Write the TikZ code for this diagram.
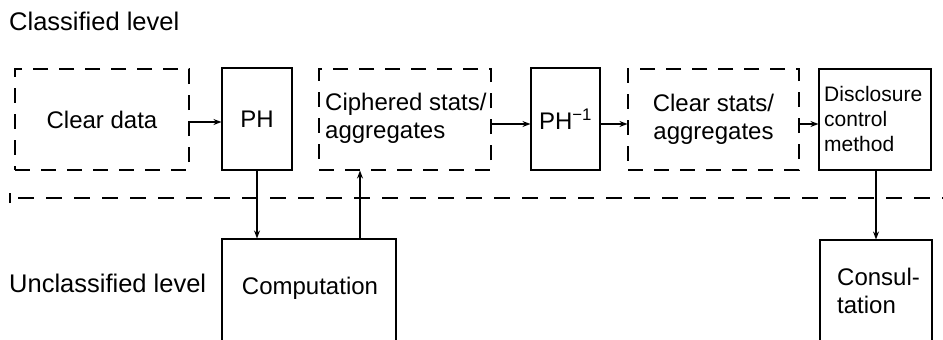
\documentclass[tikz,border=0pt]{standalone}
\usepackage{fontspec}
\setmainfont{Liberation Sans}
\usetikzlibrary{arrows.meta}
\tikzset{
  box/.style={draw, line width=1.1pt, inner sep=0pt, align=center},
  dbox/.style={box, dash pattern=on 15pt off 11pt},
  txt/.style={inner sep=0pt, align=left},
  big/.style={font=\fontsize{24}{28}\selectfont},
  lbl/.style={font=\fontsize{25.5}{30}\selectfont, inner sep=0pt, anchor=west},
  arr/.style={line width=1.1pt, -{Stealth[length=8pt,width=6pt]}},
}
\begin{document}
\begin{tikzpicture}[x=1pt,y=-1pt]
\useasboundingbox (0,0) rectangle (943,340);
\clip (0,0) rectangle (943,340);
\node[lbl] (cl) at (9,21) {Classified level};
\node[lbl] (ul) at (9,283) {Unclassified level};
% top row
\node[dbox, big, minimum width=174pt, minimum height=101pt] (cd) at (102,119.5) {Clear data};
\node[box, big, minimum width=70pt, minimum height=102pt] (ph) at (257,119) {PH};
\node[dbox, minimum width=172pt, minimum height=101pt] (ciph) at (405,119.5) {};
\node[txt, big, anchor=west] (ciphtxt) at (325,118) {Ciphered stats/\\aggregates};
\node[box, big, minimum width=69pt, minimum height=102pt] (phi) at (565.5,119) {PH\textsuperscript{−1}};
\node[dbox, big, minimum width=171pt, minimum height=101pt] (cs) at (713.5,119.5) {Clear stats/\\aggregates};
\node[box, minimum width=112pt, minimum height=101pt] (dcm) at (875,119.5) {};
\node[txt, anchor=west, font=\fontsize{21}{25}\selectfont] (dcmtxt) at (824,119) {Disclosure\\control\\method};
% bottom row
\node[box, minimum width=174pt, minimum height=130pt] (comp) at (309,304) {};
\node[txt, big] (comptxt) at (310,288) {Computation};
\node[box, minimum width=112pt, minimum height=130pt] (cons) at (876,305) {};
\node[txt, big, anchor=west] (constxt) at (837,291) {Consul-\\tation};
% separating line
\coordinate (sl) at (10,198);
\coordinate (sr) at (943,198);
\draw[line width=1.1pt, dash pattern=on 16pt off 12pt, dash phase=-8pt] (sl) -- (sr);
\draw[line width=1.1pt] ([yshift=-5pt]sl) -- ([yshift=5pt]sl);
% arrows
\draw[arr] (cd.east |- 0,122) -- (ph.west |- 0,122);
\draw[arr] (ciph.east |- 0,124) -- (phi.west |- 0,124);
\draw[arr] (phi.east |- 0,124) -- (cs.west |- 0,124);
\draw[arr] (cs.east |- 0,124) -- (dcm.west |- 0,124);
\draw[arr] (ph.south) -- (ph.south |- comp.north);
\draw[arr] (comp.north -| 360,0) -- (ciph.south -| 360,0);
\draw[arr] (dcm.south -| 876,0) -- (cons.north);
\end{tikzpicture}
\end{document}
